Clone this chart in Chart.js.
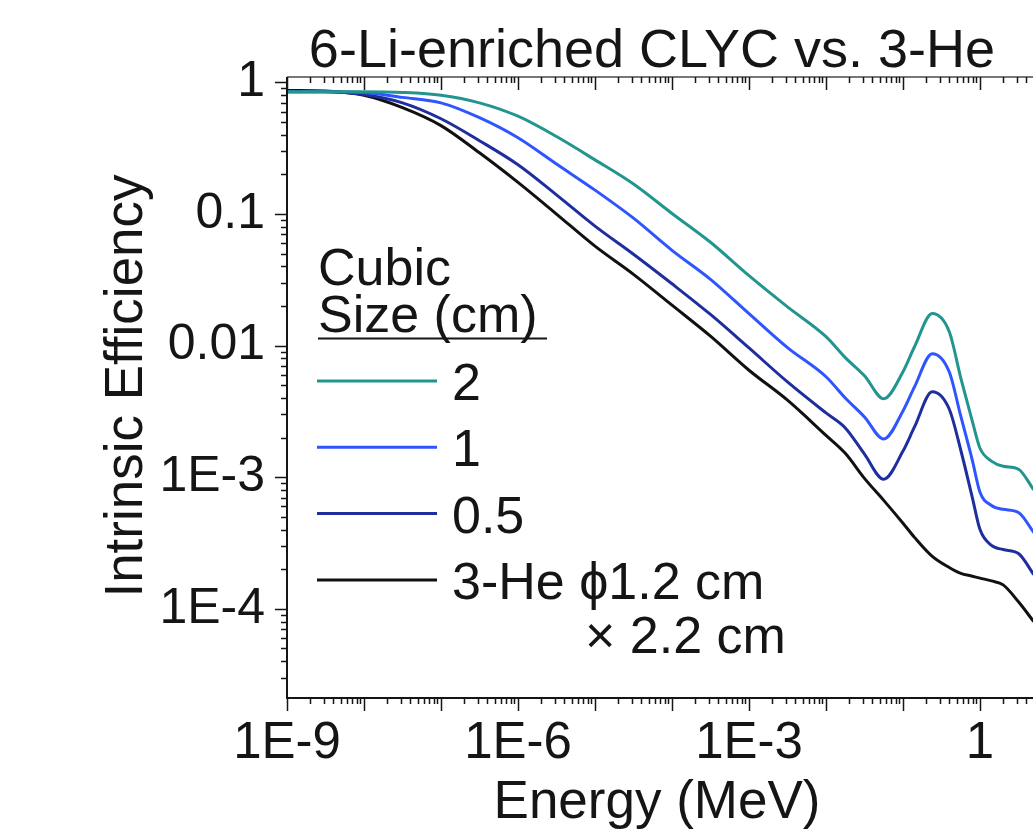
<!DOCTYPE html>
<html>
<head>
<meta charset="utf-8">
<title>6-Li-enriched CLYC vs. 3-He</title>
<script src="https://cdn.jsdelivr.net/npm/chart.js@4.4.0/dist/chart.umd.min.js"></script>
<style>
  html, body { margin: 0; padding: 0; background: #fff; overflow: hidden; }
  #wrap { width: 1100px; height: 832px; }
</style>
</head>
<body>
<div id="wrap"><canvas id="effChart" width="1100" height="832"></canvas></div>
<script>
// neutron energy (MeV)
var energy = [1e-9, 3.16e-9, 1e-8, 3.16e-8, 1e-7, 3.16e-7, 1e-6, 3.16e-6, 1e-5, 3.16e-5,
  1e-4, 3.16e-4, 1e-3, 3.16e-3, 1e-2, 1.78e-2, 3.16e-2, 5.62e-2, 0.1, 0.141,
  0.24, 0.398, 0.562, 0.794, 1, 1.41, 2.0, 3.16, 5.0];

// intrinsic efficiency, CLYC cubes of 2, 1 and 0.5 cm, and the 3-He tube
var eff2cm = [0.85, 0.85, 0.85, 0.84, 0.80, 0.70, 0.554, 0.388, 0.258, 0.169,
  0.101, 0.061, 0.034, 0.0197, 0.0117, 0.0081, 0.0059, 0.00394, 0.00633, 0.0098,
  0.01755, 0.0128, 0.0057, 0.00267, 0.00166, 0.001325, 0.00121, 0.00115, 0.0008];
var eff1cm = [0.85, 0.85, 0.84, 0.77, 0.70, 0.54, 0.38, 0.24, 0.152, 0.093,
  0.053, 0.0319, 0.0175, 0.00966, 0.0058, 0.0040, 0.00287, 0.00195, 0.00319, 0.00486,
  0.00869, 0.00633, 0.00292, 0.00135, 0.000768, 0.00061, 0.00057, 0.00054, 0.00038];
var eff05cm = [0.85, 0.85, 0.81, 0.70, 0.53, 0.361, 0.237, 0.14, 0.081, 0.0495,
  0.0295, 0.01725, 0.0096, 0.0053, 0.00308, 0.00237, 0.0015, 0.000966, 0.00158, 0.00241,
  0.00446, 0.0033, 0.00161, 0.000703, 0.0004, 0.000303, 0.000282, 0.000263, 0.000182];
var effHe3 = [0.87, 0.86, 0.80, 0.644, 0.47, 0.292, 0.174, 0.1, 0.057, 0.0348,
  0.0203, 0.0118, 0.0065, 0.00385, 0.00208, 0.00152, 0.00098, 0.000667, 0.000447, 0.000349,
  0.00025, 0.000206, 0.000186, 0.000177, 0.000171, 0.000163, 0.000152, 0.000113, 0.0000798];

var seriesLabels = ['2', '1', '0.5', '3-He \u03d51.2 cm'];
var xTickValues = [1e-9, 1e-6, 1e-3, 1];
var xTickLabels = ['1E-9', '1E-6', '1E-3', '1'];
var yTickValues = [1, 0.1, 0.01, 1e-3, 1e-4];
var yTickLabels = ['1', '0.1', '0.01', '1E-3', '1E-4'];

var FONT = '"Liberation Sans", Arial, Helvetica, sans-serif';
var INK = '#151515';
var colors = ['#23958f', '#2f55ff', '#1f2e9e', '#111111'];

function pairs(ys) {
  return energy.map(function(e, i) { return { x: e, y: ys[i] }; });
}

/**
 * Frame, ticks, titles and the hand-made legend
 */
var decorations = {
  id: 'decorations',
  afterDraw: function(chart) {
    var ctx = chart.ctx;
    var a = chart.chartArea;
    var xs = chart.scales.x;
    var ys = chart.scales.y;
    var d, k, v, p, len;

    ctx.save();

    // frame (right side is off the page)
    ctx.lineWidth = 2;
    ctx.strokeStyle = '#777';
    ctx.beginPath();
    ctx.moveTo(a.right, a.top);
    ctx.lineTo(a.left, a.top);
    ctx.stroke();
    ctx.strokeStyle = INK;
    ctx.beginPath();
    ctx.moveTo(a.left, a.top);
    ctx.lineTo(a.left, a.bottom);
    ctx.lineTo(a.right, a.bottom);
    ctx.stroke();

    // ticks
    ctx.lineWidth = 1.5;
    ctx.beginPath();
    for (d = -10; d <= 1; d++) {
      for (k = 1; k <= 9; k++) {
        v = k * Math.pow(10, d);
        if (v < xs.min || v > xs.max) continue;
        p = Math.round(xs.getPixelForValue(v)) + 0.5;
        len = k === 1 ? 13 : 6;
        ctx.moveTo(p, a.bottom); ctx.lineTo(p, a.bottom + len);
        ctx.moveTo(p, a.top); ctx.lineTo(p, a.top + len);
      }
    }
    for (d = -6; d <= 0; d++) {
      for (k = 1; k <= 9; k++) {
        v = k * Math.pow(10, d);
        if (v < ys.min || v > ys.max) continue;
        p = Math.round(ys.getPixelForValue(v)) + 0.5;
        len = k === 1 ? 12 : 6;
        ctx.moveTo(a.left, p); ctx.lineTo(a.left - len, p);
      }
    }
    ctx.stroke();

    // titles
    ctx.fillStyle = INK;
    ctx.textAlign = 'center';
    ctx.textBaseline = 'alphabetic';
    ctx.font = '54px ' + FONT;
    ctx.fillText('6-Li-enriched CLYC vs. 3-He', 652, 67);
    ctx.font = '53px ' + FONT;
    ctx.fillText('Energy (MeV)', 657, 818);
    ctx.save();
    ctx.translate(142, 386);
    ctx.rotate(-Math.PI / 2);
    ctx.fillText('Intrinsic Efficiency', 0, 0);
    ctx.restore();

    // legend
    ctx.textAlign = 'left';
    ctx.font = '52px ' + FONT;
    ctx.fillText('Cubic', 318, 285);
    ctx.fillText('Size (cm)', 318, 332);
    ctx.lineWidth = 2;
    ctx.beginPath();
    ctx.moveTo(318, 338.5);
    ctx.lineTo(547, 338.5);
    ctx.stroke();

    chart.data.datasets.forEach(function(ds, i) {
      var base = 400 + i * 66.3;
      ctx.strokeStyle = ds.borderColor;
      ctx.lineWidth = 3;
      ctx.beginPath();
      ctx.moveTo(317, base - 19);
      ctx.lineTo(437, base - 19);
      ctx.stroke();
      ctx.fillText(ds.label, 452, base);
    });
    ctx.fillText('\u00d7 2.2 cm', 585, 653);

    ctx.restore();
  }
};

var datasets = [eff2cm, eff1cm, eff05cm, effHe3].map(function(ys, i) {
  return {
    label: seriesLabels[i],
    data: pairs(ys),
    borderColor: colors[i],
    backgroundColor: colors[i],
    borderWidth: 3,
    pointRadius: 0,
    fill: false,
    cubicInterpolationMode: 'monotone'
  };
});

var ctx = document.getElementById('effChart').getContext('2d');
var effChart = new Chart(ctx, {
  type: 'line',
  data: { datasets: datasets },
  options: {
    responsive: false,
    animation: false,
    events: [],
    layout: { padding: { top: 77, right: 43, left: 0, bottom: 0 } },
    plugins: {
      legend: { display: false },
      title: { display: false },
      tooltip: { enabled: false }
    },
    scales: {
      x: {
        type: 'logarithmic',
        min: 1e-9,
        max: 10,
        grid: { display: false, drawTicks: false },
        border: { display: false },
        afterBuildTicks: function(scale) {
          scale.ticks = xTickValues.map(function(v) { return { value: v }; });
        },
        afterFit: function(scale) { scale.height = 134; },
        ticks: {
          autoSkip: false,
          maxRotation: 0,
          padding: 15,
          color: INK,
          font: { family: FONT, size: 51 },
          callback: function(value) {
            var i = xTickValues.indexOf(value);
            return i >= 0 ? xTickLabels[i] : '';
          }
        }
      },
      y: {
        type: 'logarithmic',
        min: 2.1e-5,
        max: 1.1,
        grid: { display: false, drawTicks: false },
        border: { display: false },
        afterBuildTicks: function(scale) {
          scale.ticks = yTickValues.map(function(v) { return { value: v }; });
        },
        afterFit: function(scale) { scale.width = 287; },
        ticks: {
          autoSkip: false,
          padding: 22,
          color: INK,
          font: { family: FONT, size: 50 },
          callback: function(value) {
            var i = yTickValues.indexOf(value);
            return i >= 0 ? yTickLabels[i] : '';
          }
        }
      }
    }
  },
  plugins: [decorations]
});
</script>
</body>
</html>
